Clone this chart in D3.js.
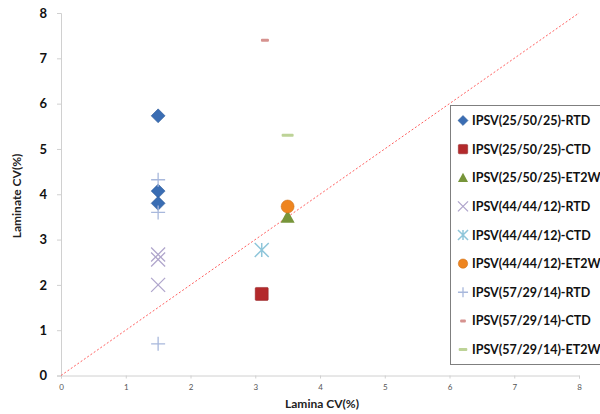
<!DOCTYPE html>
<html><head><meta charset="utf-8">
<script src="https://cdn.jsdelivr.net/npm/d3@7"></script>
<style>body{margin:0;background:#fff}svg{display:block}</style>
</head><body>
<svg id="c" width="600" height="414"></svg>
<script>
const xTicks = [0,1,2,3,4,5,6,7,8];
const yTicks = [0,1,2,3,4,5,6,7,8];
const seriesNames = ["IPSV(25/50/25)-RTD","IPSV(25/50/25)-CTD","IPSV(25/50/25)-ET2W","IPSV(44/44/12)-RTD","IPSV(44/44/12)-CTD","IPSV(44/44/12)-ET2W","IPSV(57/29/14)-RTD","IPSV(57/29/14)-CTD","IPSV(57/29/14)-ET2W"];
const s1 = [[1.5,5.73],[1.5,4.07],[1.5,3.8]];
const s2 = [[3.1,1.8]];
const s3 = [[3.5,3.5]];
const s4 = [[1.5,2.67],[1.5,2.56],[1.5,2.0]];
const s5 = [[3.1,2.77]];
const s6 = [[3.5,3.73]];
const s7 = [[1.5,4.32],[1.5,3.6],[1.5,0.7]];
const s8 = [[3.15,7.4]];
const s9 = [[3.5,5.3]];
const refLine = [[0,0],[8,8]];
const seriesData = [s1,s2,s3,s4,s5,s6,s7,s8,s9];
const shapes = ["diamond","square","triangle","x","star","circle","plus","dashS","dashL"];
const colors = ["#3a6db3","#b3292b","#77953a","#b0a6cc","#8fc6da","#ee8520","#a8b8dc","#d6928f","#bdd397"];

const svg = d3.select("#c");
const x = d3.scaleLinear().domain([0,8]).range([61,579]);
const y = d3.scaleLinear().domain([0,8]).range([375.5,13]);

// axes
const gy = svg.append("g").attr("transform","translate(61,0)")
  .call(d3.axisLeft(y).tickValues(yTicks).tickSize(4).tickPadding(10).tickFormat(d3.format("d")));
gy.select(".domain").attr("stroke","#d0d0d0");
gy.selectAll(".tick line").attr("stroke","#d0d0d0");
gy.selectAll("text").attr("font-family","Lato, 'Open Sans', sans-serif").attr("font-weight","bold").attr("font-size","13px").attr("fill","#111");

const gx = svg.append("g").attr("transform","translate(0,375.5)")
  .call(d3.axisBottom(x).tickValues(xTicks).tickSize(3).tickPadding(6).tickFormat(d3.format("d")));
gx.select(".domain").attr("stroke","#d0d0d0");
gx.selectAll(".tick line").attr("stroke","#d0d0d0");
gx.selectAll("text").attr("font-family","Lato, 'Open Sans', sans-serif").attr("font-size","8px").attr("fill","#555");

svg.append("text").attr("x",322).attr("y",408).attr("text-anchor","middle")
  .attr("font-family","Lato, 'Open Sans', sans-serif").attr("font-weight","bold").attr("font-size","12px").attr("fill","#222")
  .text("Lamina CV(%)");
svg.append("text").attr("transform","translate(21,196) rotate(-90)").attr("text-anchor","middle")
  .attr("font-family","Lato, 'Open Sans', sans-serif").attr("font-weight","bold").attr("font-size","12px").attr("fill","#222")
  .text("Laminate CV(%)");

// reference line
svg.append("path").datum(refLine)
  .attr("d", d3.line().x(d=>x(d[0])).y(d=>y(d[1])))
  .attr("stroke","#ff6060").attr("stroke-width",1).attr("stroke-dasharray","2,2").attr("fill","none");

function drawMarker(g, shape, color, cx, cy, k) {
  k = k || 1;
  if (shape==="diamond") {
    const r=7*k;
    g.append("path").attr("d",`M${cx},${cy-r}L${cx+r},${cy}L${cx},${cy+r}L${cx-r},${cy}Z`).attr("fill",color).attr("stroke","#2e5a94").attr("stroke-width",0.5);
  } else if (shape==="square") {
    const r=6.5*k;
    g.append("rect").attr("x",cx-r).attr("y",cy-r).attr("width",2*r).attr("height",2*r).attr("rx",1).attr("fill",color).attr("stroke","#8e1f20").attr("stroke-width",0.5);
  } else if (shape==="triangle") {
    const r=7*k;
    g.append("path").attr("d",`M${cx},${cy-r}L${cx+r},${cy+r*0.85}L${cx-r},${cy+r*0.85}Z`).attr("fill",color);
  } else if (shape==="x") {
    const r=7*k;
    g.append("path").attr("d",`M${cx-r},${cy-r}L${cx+r},${cy+r}M${cx-r},${cy+r}L${cx+r},${cy-r}`).attr("stroke",color).attr("stroke-width",1.3).attr("fill","none");
  } else if (shape==="star") {
    const r=7*k;
    g.append("path").attr("d",`M${cx-r},${cy-r}L${cx+r},${cy+r}M${cx-r},${cy+r}L${cx+r},${cy-r}M${cx},${cy-r}L${cx},${cy+r}`).attr("stroke",color).attr("stroke-width",1.5).attr("fill","none");
  } else if (shape==="circle") {
    g.append("circle").attr("cx",cx).attr("cy",cy).attr("r",6.5*k).attr("fill",color).attr("stroke","#c96a10").attr("stroke-width",0.5);
  } else if (shape==="plus") {
    const r=7*k;
    g.append("path").attr("d",`M${cx-r},${cy}L${cx+r},${cy}M${cx},${cy-r}L${cx},${cy+r}`).attr("stroke",color).attr("stroke-width",1.3).attr("fill","none");
  } else if (shape==="dashS") {
    const w=8*k;
    g.append("rect").attr("x",cx-w/2).attr("y",cy-1.5).attr("width",w).attr("height",3).attr("rx",1).attr("fill",color);
  } else if (shape==="dashL") {
    const w=12*k;
    g.append("rect").attr("x",cx-w/2).attr("y",cy-1.5).attr("width",w).attr("height",3).attr("rx",1).attr("fill",color);
  }
}

// points (draw in order)
const pts = svg.append("g");
seriesData.forEach((s,i)=>{
  s.forEach(d=>drawMarker(pts, shapes[i], colors[i], x(d[0]), y(d[1]), 1));
});

// legend
const leg = svg.append("g");
leg.append("rect").attr("x",450.5).attr("y",105.5).attr("width",160).attr("height",259)
  .attr("fill","#fff").attr("stroke","#7f7f7f").attr("stroke-width",1);
const ly = d3.scalePoint().domain(seriesNames).range([120.5,349.5]);
seriesNames.forEach((n,i)=>{
  const cy = ly(n);
  drawMarker(leg, shapes[i], colors[i], 463, cy, 0.72);
  leg.append("text").attr("x",472).attr("y",cy).attr("dy","0.36em")
    .attr("font-family","Lato, 'Open Sans', sans-serif").attr("font-weight","bold").attr("font-size","12.5px").attr("fill","#111")
    .text(n);
});
</script>
</body></html>
